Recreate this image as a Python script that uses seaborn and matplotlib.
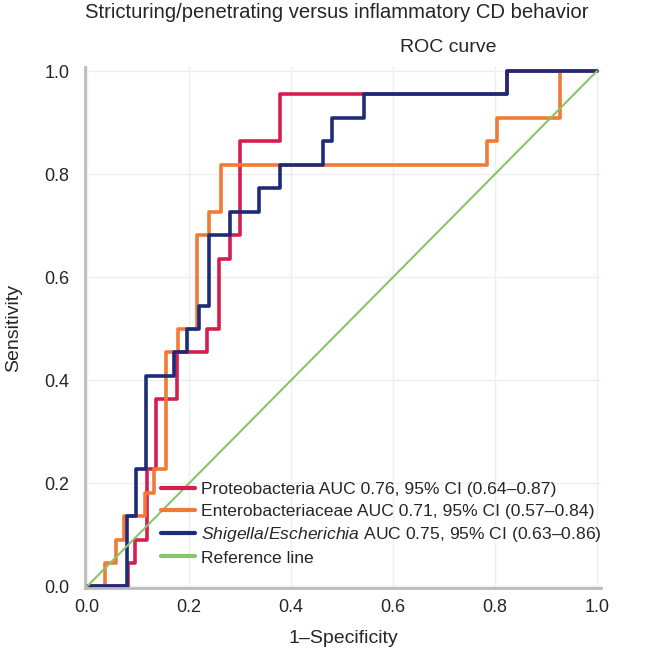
import numpy as np
import pandas as pd
import matplotlib
matplotlib.use("Agg")
import matplotlib.pyplot as plt
import seaborn as sns

# ROC step points (1-specificity, sensitivity)
proteo_fpr = [0, 0.081, 0.095, 0.117, 0.136, 0.176, 0.236, 0.258, 0.281, 0.300, 0.379, 0.824, 1.0]
proteo_tpr = [0, 0.045, 0.091, 0.227, 0.364, 0.455, 0.500, 0.636, 0.682, 0.864, 0.955, 1.0, 1.0]

entero_fpr = [0, 0.036, 0.056, 0.073, 0.113, 0.132, 0.155, 0.178, 0.216, 0.239, 0.262, 0.785, 0.804, 0.927, 1.0]
entero_tpr = [0, 0.045, 0.091, 0.136, 0.182, 0.227, 0.455, 0.500, 0.682, 0.727, 0.818, 0.864, 0.909, 1.0, 1.0]

shig_fpr = [0, 0.078, 0.097, 0.116, 0.171, 0.197, 0.220, 0.239, 0.281, 0.338, 0.378, 0.463, 0.481, 0.543, 0.824, 1.0]
shig_tpr = [0, 0.136, 0.227, 0.409, 0.455, 0.500, 0.545, 0.682, 0.727, 0.773, 0.818, 0.864, 0.909, 0.955, 1.0, 1.0]

ref_x = [0, 1]
ref_y = [0, 1]

labels = ["Proteobacteria AUC 0.76, 95% CI (0.64\u20130.87)",
          "Enterobacteriaceae AUC 0.71, 95% CI (0.57\u20130.84)",
          r"$\mathit{Shigella/Escherichia}$" + " AUC 0.75, 95% CI (0.63\u20130.86)",
          "Reference line"]
colors = ["#D41F4E", "#F17A36", "#1E2C78", "#86C66A"]
ticks = [0.0, 0.2, 0.4, 0.6, 0.8, 1.0]

sns.set_style("white")
plt.rcParams['font.family'] = ['Liberation Sans', 'DejaVu Sans']
plt.rcParams['mathtext.fontset'] = 'custom'
plt.rcParams['mathtext.it'] = 'Liberation Sans:italic'
plt.rcParams['mathtext.rm'] = 'Liberation Sans'

fig = plt.figure(figsize=(6.6, 6.57), dpi=100)
ax = fig.add_axes([85 / 660, 69 / 657, 516 / 660, 521 / 657])

curves = [(proteo_fpr, proteo_tpr), (entero_fpr, entero_tpr), (shig_fpr, shig_tpr)]
for (fx, ty), lab, col in zip(curves, labels[:3], colors[:3]):
    sns.lineplot(x=fx, y=ty, ax=ax, estimator=None, sort=False, drawstyle="steps-post",
                 color=col, linewidth=2.6, label=lab, clip_on=False)
sns.lineplot(x=ref_x, y=ref_y, ax=ax, estimator=None, sort=False, color=colors[3],
             linewidth=1.5, label=labels[3], clip_on=False)

ax.set_xlim(-0.004, 1.008)
ax.set_ylim(-0.003, 1.008)
ax.set_xticks(ticks)
ax.set_yticks(ticks)
ax.set_xticklabels([f"{t:.1f}" for t in ticks], fontsize=13)
ax.set_yticklabels([f"{t:.1f}" for t in ticks], fontsize=13)
ax.tick_params(axis="x", length=0, pad=8)
ax.tick_params(axis="y", length=0, pad=11)
ax.grid(True, color="#EFEFEF", linewidth=1.0)
ax.set_axisbelow(True)
for s in ["top", "right"]:
    ax.spines[s].set_visible(False)
for s in ["left", "bottom"]:
    ax.spines[s].set_color("#BBBBBB")
    ax.spines[s].set_linewidth(2.0)

ax.set_xlabel("1\u2013Specificity", fontsize=14, labelpad=10)
ax.set_ylabel("Sensitivity", fontsize=14, labelpad=16)

leg = ax.legend(loc="lower left", bbox_to_anchor=(0.147, 0.043), frameon=False,
                fontsize=12.6, handlelength=1.95, handletextpad=0.33,
                labelspacing=0.36, borderpad=0, borderaxespad=0)
for h in leg.get_lines():
    h.set_linewidth(3.0)

fig.text(337 / 660, 1 - 12 / 657, "Stricturing/penetrating versus inflammatory CD behavior",
         ha="center", va="center", fontsize=14.6)
fig.text(448 / 660, 1 - 48 / 657, "ROC curve", ha="center", va="center", fontsize=14)

plt.savefig("out.png", dpi=100)
